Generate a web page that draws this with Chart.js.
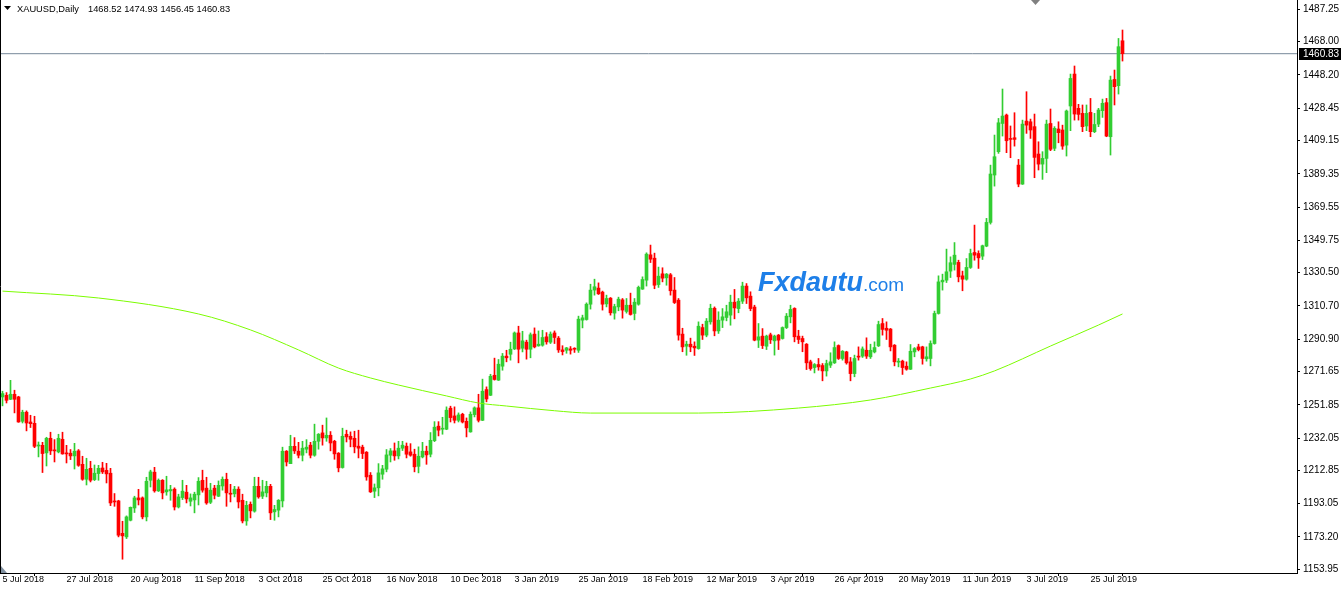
<!DOCTYPE html>
<html>
<head>
<meta charset="utf-8">
<script src="https://cdn.jsdelivr.net/npm/chart.js@4.4.1/dist/chart.umd.min.js"></script>
<style>
  html, body { margin: 0; padding: 0; background: #fff; }
  #wrap { width: 1343px; height: 591px; }
</style>
</head>
<body>
<div id="wrap"><canvas id="chart" width="1343" height="591"></canvas></div>
<script>
// XAUUSD daily candles (bar 0 = 5 Jul 2018)
const symbolName = 'XAUUSD,Daily';

const opens = [
  1256.5,1257.5,1255.1,1258.1,1256.5,1242.0,1247.4,1241.6,1240.8,1227.3,
  1227.7,1223.2,1231.9,1224.8,1223.8,1231.3,1223.0,1223.0,1221.4,1224.4,
  1216.4,1207.5,1214.0,1207.3,1210.9,1214.2,1212.8,1211.1,1194.4,1194.6,
  1175.3,1173.2,1183.1,1190.4,1196.4,1196.4,1185.1,1206.9,1211.7,1200.6,
  1206.9,1200.0,1200.6,1201.6,1191.0,1196.6,1199.8,1194.4,1195.2,1198.2,
  1206.9,1202.2,1193.8,1202.2,1197.4,1203.5,1207.5,1199.2,1198.8,1201.6,
  1195.0,1182.7,1192.6,1188.5,1203.3,1197.4,1199.4,1203.3,1188.1,1189.1,
  1194.6,1224.2,1216.8,1227.1,1224.2,1221.8,1225.4,1227.8,1221.8,1230.1,
  1235.1,1232.1,1233.7,1230.1,1223.0,1214.5,1234.3,1233.1,1231.9,1227.2,
  1226.6,1223.6,1209.9,1200.4,1202.4,1210.5,1213.5,1221.8,1224.4,1221.4,
  1226.0,1227.2,1223.8,1222.4,1215.2,1220.8,1224.2,1222.4,1230.5,1239.1,
  1237.3,1237.3,1249.8,1245.2,1242.6,1246.2,1242.0,1235.7,1246.0,1250.0,
  1242.6,1260.9,1257.5,1269.4,1266.5,1274.8,1280.8,1281.9,1285.1,1294.6,
  1285.5,1289.1,1284.9,1293.9,1286.9,1287.3,1292.3,1289.1,1294.6,1291.5,
  1284.5,1284.3,1285.1,1285.2,1284.3,1302.2,1302.6,1311.7,1320.1,1321.3,
  1318.9,1311.9,1315.3,1306.4,1310.1,1314.3,1307.4,1311.1,1306.2,1311.7,
  1320.7,1326.0,1341.1,1339.1,1323.4,1329.8,1327.4,1329.2,1320.1,1314.1,
  1293.9,1286.7,1287.9,1286.7,1285.3,1297.8,1293.3,1301.2,1309.3,1295.8,
  1302.2,1303.8,1305.2,1312.9,1309.1,1313.5,1322.5,1316.5,1310.0,1290.3,
  1292.7,1286.7,1293.5,1289.9,1293.3,1291.3,1297.8,1304.2,1309.2,1292.7,
  1291.3,1287.9,1277.4,1274.0,1275.8,1275.2,1272.0,1275.4,1276.8,1287.1,
  1279.4,1283.3,1277.4,1270.4,1280.8,1280.8,1284.3,1280.4,1283.3,1286.9,
  1300.2,1297.4,1296.9,1287.3,1277.2,1277.8,1274.8,1273.0,1283.3,1286.3,
  1286.3,1279.2,1279.4,1288.3,1306.2,1325.0,1326.0,1331.4,1335.4,1336.6,
  1328.6,1326.6,1333.6,1342.5,1341.9,1340.3,1346.3,1360.4,1388.6,1402.5,
  1419.3,1424.3,1410.4,1410.8,1394.5,1383.2,1420.7,1420.3,1417.4,1401.1,
  1395.1,1398.5,1419.3,1404.5,1416.0,1415.4,1406.4,1429.7,1448.7,1428.3,
  1425.3,1417.8,1425.9,1414.4,1418.9,1426.9,1431.7,1411.4,1445.5,1441.8,
  1468.52
];
const highs = [
  1259.9,1259.1,1266.4,1260.5,1256.9,1248.6,1248.2,1245.6,1245.0,1229.7,
  1229.5,1232.5,1235.5,1231.1,1234.3,1235.5,1227.7,1225.2,1228.9,1225.2,
  1221.2,1220.0,1218.2,1216.0,1215.8,1217.6,1217.0,1214.0,1199.0,1195.0,
  1182.5,1185.7,1191.0,1197.4,1201.5,1197.0,1208.7,1212.9,1214.6,1207.7,
  1207.3,1209.3,1203.9,1202.4,1198.6,1206.9,1203.9,1198.8,1199.8,1208.5,
  1212.9,1208.7,1205.1,1203.9,1206.5,1208.9,1211.1,1204.5,1203.3,1203.0,
  1198.6,1194.4,1194.0,1208.7,1208.7,1206.9,1206.3,1204.5,1192.0,1195.4,
  1226.6,1224.6,1233.7,1232.3,1229.5,1230.1,1231.1,1229.5,1240.3,1234.7,
  1239.7,1244.0,1235.9,1230.7,1223.4,1237.9,1236.7,1235.7,1236.1,1236.7,
  1227.8,1224.0,1211.5,1204.7,1216.8,1215.8,1225.2,1225.8,1229.1,1230.1,
  1230.1,1229.1,1228.7,1225.4,1226.8,1229.5,1227.2,1235.3,1241.8,1241.8,
  1244.4,1250.6,1251.0,1250.6,1247.0,1246.8,1244.0,1247.6,1250.6,1258.1,
  1267.1,1262.5,1270.0,1279.6,1278.8,1282.4,1284.3,1289.1,1295.2,1298.6,
  1295.6,1290.3,1294.6,1297.6,1295.8,1296.2,1294.8,1295.2,1295.8,1292.5,
  1287.0,1286.0,1286.5,1285.8,1304.6,1305.2,1312.5,1323.6,1326.6,1324.4,
  1319.5,1317.1,1315.7,1311.7,1315.9,1315.1,1315.1,1318.3,1315.1,1322.5,
  1328.0,1342.3,1346.9,1342.1,1333.8,1333.4,1330.0,1330.0,1327.6,1315.1,
  1297.4,1289.7,1291.5,1289.3,1301.2,1299.8,1303.2,1311.7,1310.1,1307.2,
  1309.1,1311.1,1317.1,1320.5,1315.1,1324.8,1324.0,1319.1,1311.1,1300.2,
  1297.2,1293.3,1294.5,1293.3,1293.7,1298.2,1306.2,1311.1,1309.6,1296.2,
  1292.7,1288.3,1278.4,1276.4,1279.4,1276.4,1278.4,1282.8,1289.3,1287.5,
  1284.1,1283.7,1280.0,1281.4,1286.3,1286.3,1291.7,1287.9,1289.3,1301.6,
  1303.2,1301.2,1297.3,1287.7,1279.4,1278.4,1277.4,1287.7,1285.9,1287.9,
  1286.7,1286.3,1289.9,1307.6,1328.6,1329.6,1344.5,1339.9,1348.4,1337.9,
  1331.4,1338.9,1344.5,1358.8,1343.5,1346.9,1362.8,1394.5,1412.4,1422.3,
  1439.8,1424.9,1417.8,1425.7,1397.9,1421.3,1438.2,1421.9,1424.9,1408.4,
  1402.5,1421.3,1427.9,1417.4,1420.3,1418.3,1427.3,1448.7,1453.5,1430.7,
  1430.3,1430.3,1434.2,1425.3,1428.3,1433.8,1434.2,1447.5,1451.1,1469.9,
  1474.93
];
const lows = [
  1251.2,1252.9,1254.9,1247.0,1241.4,1241.0,1236.3,1238.3,1226.3,1220.8,
  1211.5,1215.4,1222.2,1217.8,1223.2,1222.4,1217.2,1219.2,1213.6,1215.2,
  1206.9,1204.1,1205.9,1206.7,1206.9,1210.9,1205.3,1191.8,1191.4,1173.2,
  1159.9,1172.2,1182.7,1187.7,1192.2,1183.9,1182.7,1202.9,1199.8,1200.2,
  1195.8,1198.0,1195.0,1189.2,1190.4,1195.4,1193.4,1191.6,1187.5,1192.2,
  1199.8,1192.6,1193.0,1195.8,1197.2,1201.0,1191.4,1194.0,1197.0,1190.4,
  1181.5,1180.1,1184.5,1187.9,1196.2,1196.0,1197.0,1183.5,1183.1,1185.1,
  1191.0,1215.4,1216.8,1222.8,1220.2,1218.4,1223.2,1220.2,1221.2,1225.4,
  1227.8,1230.1,1224.4,1219.4,1211.9,1214.1,1229.7,1226.8,1223.2,1220.2,
  1219.8,1206.9,1199.6,1196.6,1197.6,1207.5,1211.9,1217.8,1218.8,1219.6,
  1224.6,1220.2,1221.2,1211.9,1211.3,1220.2,1216.4,1220.8,1229.9,1233.3,
  1234.3,1237.0,1241.6,1241.0,1241.6,1241.0,1232.7,1235.5,1244.6,1241.6,
  1242.4,1253.6,1257.3,1266.5,1266.3,1272.4,1277.4,1278.4,1284.7,1276.8,
  1283.3,1279.0,1279.8,1285.7,1286.7,1286.7,1287.9,1288.3,1288.3,1283.0,
  1281.5,1282.5,1282.0,1283.0,1283.0,1297.6,1302.2,1308.8,1317.1,1317.5,
  1308.2,1310.1,1305.2,1302.8,1307.8,1303.4,1306.4,1305.2,1302.4,1311.1,
  1320.5,1322.5,1336.5,1320.9,1321.7,1325.0,1323.0,1317.1,1312.1,1290.3,
  1283.4,1281.3,1283.4,1281.2,1284.9,1290.7,1292.3,1299.8,1292.9,1294.3,
  1297.8,1301.8,1299.2,1303.0,1306.6,1312.1,1312.1,1307.8,1289.9,1285.9,
  1285.3,1284.7,1288.3,1281.4,1284.7,1290.9,1297.2,1300.6,1289.3,1288.3,
  1283.4,1272.8,1272.4,1270.8,1272.4,1266.1,1268.9,1274.0,1276.4,1278.8,
  1278.4,1276.0,1266.1,1268.5,1278.4,1280.0,1279.4,1279.4,1282.7,1286.5,
  1293.3,1290.7,1283.9,1275.0,1274.4,1269.9,1272.4,1272.8,1280.4,1283.9,
  1276.0,1277.8,1275.0,1287.9,1305.8,1320.1,1324.6,1327.6,1332.0,1325.0,
  1319.7,1326.0,1333.0,1337.9,1333.0,1338.3,1345.9,1359.4,1382.0,1401.5,
  1411.8,1401.9,1398.9,1405.8,1381.6,1383.0,1413.4,1410.4,1387.0,1391.6,
  1386.0,1390.0,1403.1,1403.1,1407.8,1403.9,1399.9,1415.0,1421.3,1421.3,
  1414.4,1415.0,1411.4,1413.8,1417.4,1422.9,1411.4,1400.5,1430.3,1436.8,
  1456.45
];
const closes = [
  1258.5,1254.5,1258.1,1255.1,1241.6,1247.4,1241.0,1240.6,1227.1,1227.7,
  1222.8,1231.9,1224.4,1224.4,1231.9,1222.6,1222.6,1221.4,1224.2,1215.8,
  1207.5,1213.4,1206.9,1211.1,1214.0,1211.9,1210.7,1193.4,1194.0,1174.2,
  1173.8,1185.1,1190.8,1196.4,1195.2,1185.1,1206.3,1211.9,1200.6,1206.9,
  1199.4,1201.2,1201.4,1191.0,1197.0,1200.4,1195.8,1196.4,1198.6,1206.3,
  1201.0,1193.4,1201.0,1198.0,1203.9,1207.5,1199.4,1198.6,1201.6,1194.0,
  1182.7,1192.0,1188.7,1203.3,1197.0,1200.0,1203.3,1187.5,1189.5,1195.0,
  1224.2,1217.8,1227.1,1224.4,1221.8,1226.0,1226.6,1221.8,1230.1,1234.3,
  1232.1,1233.7,1229.1,1222.6,1214.3,1233.1,1232.7,1231.3,1226.8,1226.0,
  1222.8,1208.9,1200.0,1202.4,1211.3,1213.7,1222.0,1224.4,1221.4,1226.0,
  1227.8,1222.4,1221.8,1214.9,1221.2,1224.2,1222.0,1230.7,1238.5,1236.7,
  1237.9,1248.6,1244.2,1242.6,1245.8,1241.6,1238.1,1246.2,1250.0,1242.6,
  1259.9,1255.3,1268.8,1266.9,1276.0,1280.8,1279.8,1284.9,1294.6,1284.9,
  1289.9,1284.9,1293.5,1286.3,1287.9,1291.9,1289.3,1293.9,1291.9,1284.5,
  1283.5,1285.7,1284.3,1284.9,1302.8,1303.6,1311.7,1320.1,1322.1,1317.9,
  1311.7,1315.1,1306.6,1310.3,1314.7,1308.2,1311.1,1305.6,1312.9,1321.7,
  1326.4,1341.5,1338.5,1323.0,1328.4,1327.2,1329.6,1319.7,1312.7,1293.3,
  1286.3,1287.9,1286.3,1285.7,1298.6,1293.3,1301.6,1309.3,1295.8,1302.2,
  1304.2,1307.2,1312.9,1309.5,1313.5,1322.5,1315.5,1309.1,1290.3,1292.3,
  1287.1,1292.7,1290.5,1292.7,1290.3,1297.8,1304.6,1308.6,1292.3,1290.7,
  1289.3,1276.8,1273.4,1275.8,1274.4,1272.0,1276.4,1277.4,1285.9,1279.4,
  1283.7,1276.8,1270.4,1279.4,1280.2,1285.1,1280.8,1284.3,1285.9,1299.6,
  1296.7,1296.2,1286.3,1277.4,1277.8,1274.0,1273.0,1283.7,1285.3,1284.7,
  1279.4,1280.4,1288.3,1306.2,1325.0,1326.0,1331.0,1336.4,1340.9,1328.0,
  1326.6,1333.6,1341.9,1340.9,1339.3,1346.5,1360.4,1389.2,1399.5,1419.7,
  1423.7,1409.0,1409.8,1409.8,1383.2,1418.9,1418.3,1415.4,1399.1,1395.1,
  1398.5,1418.9,1403.9,1416.4,1413.8,1405.8,1426.7,1446.1,1424.9,1424.7,
  1417.4,1425.3,1414.4,1418.7,1427.3,1431.3,1411.8,1445.1,1441.2,1465.0,
  1460.83
];

// moving average line, sampled at these bars
const maBars   = [0, 24, 49, 62, 74, 84, 92, 99, 111, 119, 126, 138, 147, 174, 199, 217, 232, 242, 248, 262, 274, 280];
const maValues = [1319.5, 1315.4, 1305.9, 1296.4, 1284.5, 1273.7, 1267.8, 1263.6, 1257.1, 1252.9, 1251.1, 1248.3,
  1246.9, 1246.9, 1249.9, 1254.7, 1261.8, 1267.2, 1272.0, 1286.8, 1299.3, 1305.9];

// axis labels
const dateLabels = ['5 Jul 2018','27 Jul 2018','20 Aug 2018','11 Sep 2018','3 Oct 2018','25 Oct 2018',
  '16 Nov 2018','10 Dec 2018','3 Jan 2019','25 Jan 2019','18 Feb 2019','12 Mar 2019','3 Apr 2019',
  '26 Apr 2019','20 May 2019','11 Jun 2019','3 Jul 2019','25 Jul 2019'];
const dateStep = 16;
const priceTicks = [1487.25,1468.00,1448.20,1428.45,1409.15,1389.35,1369.55,1349.75,1330.50,1310.70,
  1290.90,1271.65,1251.85,1232.05,1212.85,1193.05,1173.20,1153.95];
const lastPrice = 1460.83;

const xMin = -0.625, xMax = 323.625;
const yMin = 1151.7, yMax = 1492.79;
const upColor = '#32cd32', downColor = '#ff0000';

const n = closes.length;
const colors = [];
const bodies = [];
const wicks = [];
for (let i = 0; i < n; i++) {
  colors.push(closes[i] >= opens[i] ? upColor : downColor);
  bodies.push({ x: i, y: [Math.min(opens[i], closes[i]), Math.max(opens[i], closes[i])] });
  wicks.push({ x: i, y: [lows[i], highs[i]] });
}
const maData = maBars.map((b, k) => ({ x: b, y: maValues[k] }));

// frame, header, bid label, watermark
const decor = {
  id: 'decor',
  afterDraw(chart) {
    const ctx = chart.ctx;
    const a = chart.chartArea;
    ctx.save();
    ctx.strokeStyle = '#000';
    ctx.lineWidth = 1;
    ctx.beginPath();
    ctx.moveTo(0.5, a.top);
    ctx.lineTo(0.5, a.bottom);
    ctx.stroke();

    // chart shift markers
    ctx.fillStyle = '#808080';
    ctx.beginPath();
    ctx.moveTo(1031, 0); ctx.lineTo(1040, 0); ctx.lineTo(1035.5, 5);
    ctx.fill();
    ctx.fillStyle = '#8090a0';
    ctx.beginPath();
    ctx.moveTo(1, 566); ctx.lineTo(1, 573); ctx.lineTo(7, 573);
    ctx.fill();

    // header
    ctx.fillStyle = '#000';
    ctx.beginPath();
    ctx.moveTo(4, 6); ctx.lineTo(11, 6); ctx.lineTo(7.5, 10);
    ctx.fill();
    ctx.textBaseline = 'middle';
    ctx.font = '9.3px "Liberation Sans"';
    ctx.fillText(symbolName, 17, 9);
    const ohlc = [opens[n - 1], highs[n - 1], lows[n - 1], closes[n - 1]].map(v => v.toFixed(2)).join(' ');
    ctx.fillText(ohlc, 88, 9);

    // bid price label
    const y = Math.round(chart.scales.y.getPixelForValue(lastPrice));
    ctx.fillStyle = '#000';
    ctx.fillRect(a.right + 2, y - 6, 42, 12);
    ctx.fillStyle = '#fff';
    ctx.font = '10px "Liberation Sans"';
    ctx.fillText(lastPrice.toFixed(2), a.right + 6, y);

    // watermark
    ctx.textBaseline = 'alphabetic';
    ctx.fillStyle = '#1e7fe8';
    ctx.font = 'italic bold 27px "Liberation Sans"';
    ctx.fillText('Fxdautu', 758, 291);
    const w = ctx.measureText('Fxdautu').width;
    ctx.font = '19px "Liberation Sans"';
    ctx.fillText('.com', 758 + w, 291);
    ctx.restore();
  }
};

new Chart(document.getElementById('chart'), {
  type: 'bar',
  data: {
    datasets: [
      { type: 'line', data: maData, borderColor: '#7cfc00', borderWidth: 1, pointRadius: 0,
        cubicInterpolationMode: 'monotone', order: 0 },
      { data: bodies, backgroundColor: colors, barThickness: 3, minBarLength: 1, grouped: false, order: 1 },
      { data: wicks, backgroundColor: colors, barThickness: 1, grouped: false, order: 2 },
      { type: 'line', data: [{ x: xMin, y: lastPrice }, { x: xMax, y: lastPrice }],
        borderColor: '#778899', borderWidth: 1, pointRadius: 0, order: 3 }
    ]
  },
  options: {
    responsive: false,
    animation: false,
    devicePixelRatio: 1,
    layout: { padding: 0 },
    plugins: { legend: { display: false }, tooltip: { enabled: false } },
    scales: {
      x: {
        type: 'linear', min: xMin, max: xMax, offset: false,
        afterFit(s) { s.height = 18; s.paddingLeft = 0; s.paddingRight = 0; },
        afterBuildTicks(s) { s.ticks = dateLabels.map((_, k) => ({ value: k * dateStep })); },
        grid: { drawOnChartArea: false, drawTicks: true, tickLength: 3, color: '#000' },
        border: { display: true, color: '#000' },
        ticks: { autoSkip: false, maxRotation: 0, align: 'start', padding: -2, color: '#000',
          font: { family: 'Liberation Sans', size: 9 }, callback: (v, i) => dateLabels[i] }
      },
      y: {
        position: 'right', min: yMin, max: yMax,
        afterFit(s) { s.width = 46; s.paddingTop = 0; s.paddingBottom = 0; },
        afterBuildTicks(s) { s.ticks = priceTicks.map(v => ({ value: v })); },
        grid: { drawOnChartArea: false, drawTicks: true, tickLength: 3, color: '#000' },
        border: { display: true, color: '#000' },
        ticks: { padding: 3, color: '#000', font: { family: 'Liberation Sans', size: 10 },
          callback: v => v.toFixed(2) }
      }
    }
  },
  plugins: [decor]
});
</script>
</body>
</html>
